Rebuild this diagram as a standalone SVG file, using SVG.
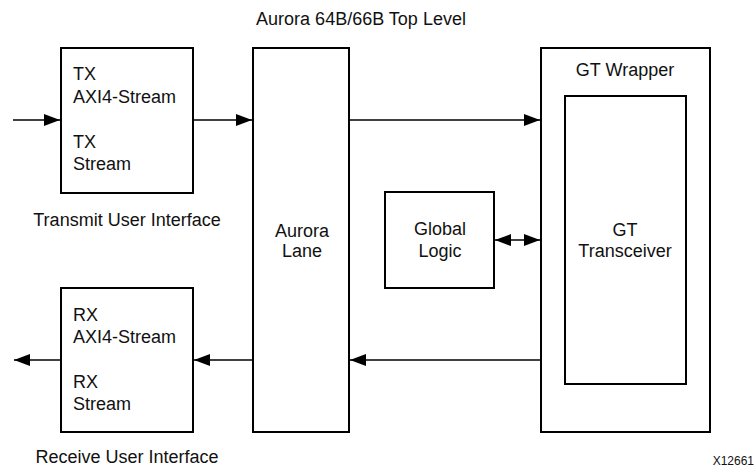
<svg xmlns="http://www.w3.org/2000/svg" width="756" height="468" viewBox="0 0 756 468">
<style>
.box{fill:#fff;stroke:#000;stroke-width:2}
.ln{stroke:#000;stroke-width:1.3;fill:none}
text{font-family:"Liberation Sans",Arial,sans-serif;font-size:18px;fill:#111}
.c{text-anchor:middle}
</style>
<defs>
<marker id="ah" viewBox="0 0 16 12" refX="16" refY="6" markerWidth="16" markerHeight="12" markerUnits="userSpaceOnUse" orient="auto">
<path d="M0,0 L16,6 L0,12 Z" fill="#000"/>
</marker>
<marker id="as" viewBox="0 0 16 12" refX="0" refY="6" markerWidth="16" markerHeight="12" markerUnits="userSpaceOnUse" orient="auto">
<path d="M16,0 L0,6 L16,12 Z" fill="#000"/>
</marker>
</defs>
<text x="361" y="25" class="c">Aurora 64B/66B Top Level</text>
<g id="tx">
<rect class="box" x="61" y="48" width="132" height="145"/>
<text x="73" y="80">TX</text>
<text x="73" y="103">AXI4-Stream</text>
<text x="73" y="148">TX</text>
<text x="73" y="170">Stream</text>
</g>
<text x="127" y="226" class="c">Transmit User Interface</text>
<g id="rx">
<rect class="box" x="61" y="288" width="132" height="144"/>
<text x="73" y="321">RX</text>
<text x="73" y="343">AXI4-Stream</text>
<text x="73" y="388">RX</text>
<text x="73" y="410">Stream</text>
</g>
<text x="127" y="463" class="c">Receive User Interface</text>
<g id="lane">
<rect class="box" x="253" y="48" width="96" height="384"/>
<text x="302" y="237" class="c">Aurora</text>
<text x="302" y="257" class="c">Lane</text>
</g>
<g id="global">
<rect class="box" x="385" y="192" width="109" height="96"/>
<text x="440" y="235" class="c">Global</text>
<text x="440" y="257" class="c">Logic</text>
</g>
<g id="wrapper">
<rect class="box" x="541" y="48" width="169" height="384"/>
<text x="625" y="76" class="c">GT Wrapper</text>
</g>
<g id="transceiver">
<rect class="box" x="565" y="96" width="121" height="288"/>
<text x="625" y="236" class="c">GT</text>
<text x="625" y="257" class="c">Transceiver</text>
</g>
<g id="connectors">
<line class="ln" x1="13" y1="120" x2="60" y2="120" marker-end="url(#ah)"/>
<line class="ln" x1="194" y1="120" x2="252" y2="120" marker-end="url(#ah)"/>
<line class="ln" x1="350" y1="120" x2="540" y2="120" marker-end="url(#ah)"/>
<line class="ln" x1="495" y1="240" x2="540" y2="240" marker-start="url(#as)" marker-end="url(#ah)"/>
<line class="ln" x1="540" y1="360" x2="350" y2="360" marker-end="url(#ah)"/>
<line class="ln" x1="60" y1="360" x2="14" y2="360" marker-end="url(#ah)"/>
<line class="ln" x1="252" y1="360" x2="194" y2="360" marker-end="url(#ah)"/>
</g>
<text x="754" y="465" style="font-size:12px;text-anchor:end">X12661</text>
</svg>
